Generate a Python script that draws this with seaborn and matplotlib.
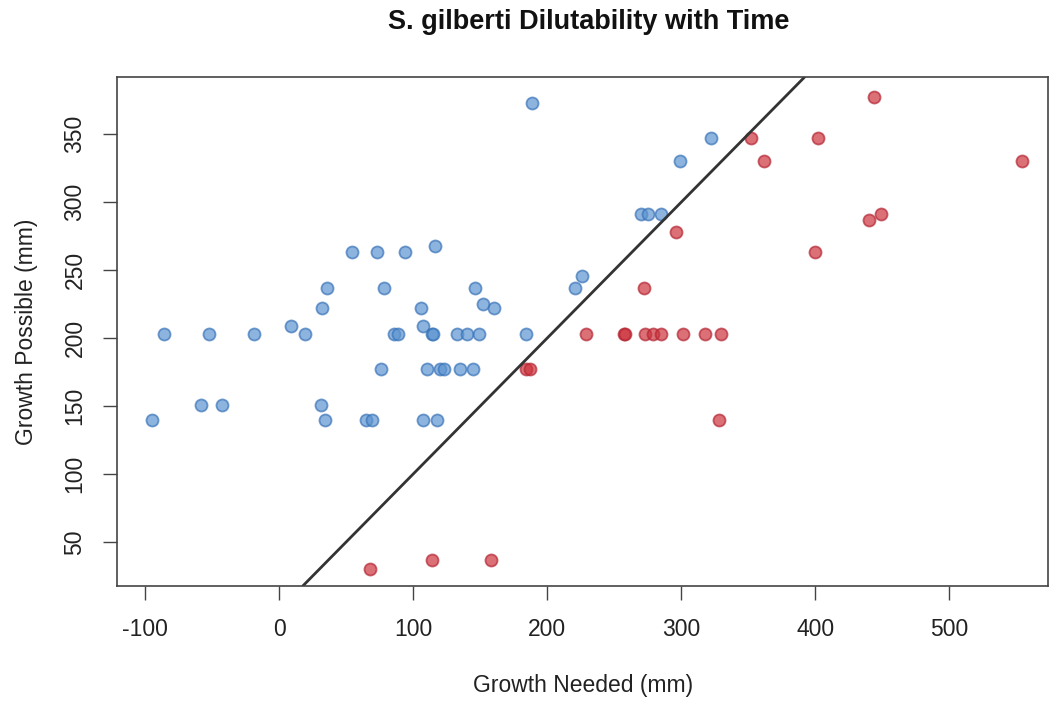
import numpy as np
import pandas as pd
import matplotlib
matplotlib.use("Agg")
import matplotlib.pyplot as plt
import seaborn as sns

# Points above the 1:1 line (growth possible > growth needed)
blue_x = [-95, -86, -58, -43, -52, -19, 9, 19, 31, 34, 32, 36, 54, 73, 94, 78, 76, 86, 89,
          65, 69, 189, 322, 299, 270, 275, 285, 116, 226, 221, 146, 106, 152, 160, 107,
          114, 115, 133, 140, 149, 184, 110, 120, 123, 135, 145, 107, 118]
blue_y = [140, 203, 151, 151, 203, 203, 209, 203, 151, 140, 222, 237, 263, 263, 263, 237, 177, 203, 203,
          140, 140, 373, 347, 330, 291, 291, 291, 268, 246, 237, 237, 222, 225, 222, 209,
          203, 203, 203, 203, 203, 203, 177, 177, 177, 177, 177, 140, 140]

# Points below the 1:1 line
red_x = [296, 184, 187, 229, 257, 258, 273, 279, 285, 301, 318, 330, 272, 328, 352, 402,
         444, 362, 554, 440, 449, 400, 68, 114, 158]
red_y = [278, 177, 177, 203, 203, 203, 203, 203, 203, 203, 203, 203, 237, 140, 347, 347,
         377, 330, 330, 287, 291, 263, 30, 37, 37]

x_ticks = [-100, 0, 100, 200, 300, 400, 500]
y_ticks = [50, 100, 150, 200, 250, 300, 350]

df = pd.DataFrame({
    "needed": blue_x + red_x,
    "possible": blue_y + red_y,
    "group": ["above"] * len(blue_x) + ["below"] * len(red_x),
})

sns.set_style("white")
plt.rcParams["font.family"] = ["Liberation Sans", "DejaVu Sans"]
plt.rcParams["axes.unicode_minus"] = False

fig = plt.figure(figsize=(10.49, 7.01), dpi=100)
ax = fig.add_axes([0.1115, 0.164, 0.888, 0.726])

fills = {"above": (0.36, 0.58, 0.82), "below": (0.80, 0.20, 0.24)}
edges = {"above": (0.22, 0.45, 0.72), "below": (0.70, 0.15, 0.20)}

for grp, sub in df.groupby("group"):
    sns.scatterplot(data=sub, x="needed", y="possible", color=fills[grp], alpha=0.7,
                    edgecolor=edges[grp], linewidth=1.3, s=75, ax=ax, legend=False)

ax.axline((0, 0), slope=1, color="#333333", lw=2)

ax.set_xlim(-121, 574)
ax.set_ylim(17.6, 392)
ax.set_xticks(x_ticks)
ax.set_yticks(y_ticks)
ax.set_yticklabels([str(v) for v in y_ticks], rotation=90, va="center")
ax.tick_params(axis="both", direction="out", length=10, width=1, color="#444444",
               labelsize=16.5, bottom=True, left=True, labelcolor="#222222")
ax.tick_params(axis="x", pad=13)
ax.tick_params(axis="y", pad=12)

for sp in ax.spines.values():
    sp.set_color("#444444")
    sp.set_linewidth(1.2)

ax.set_xlabel("Growth Needed (mm)", fontsize=16.5, labelpad=24, color="#222222")
ax.set_ylabel("Growth Possible (mm)", fontsize=16.5, labelpad=18, color="#222222")
fig.suptitle("S. gilberti Dilutability with Time", fontsize=19.5, fontweight="bold",
             x=0.561, y=0.968, va="center", color="#111111")

fig.savefig("out.png", dpi=100)
